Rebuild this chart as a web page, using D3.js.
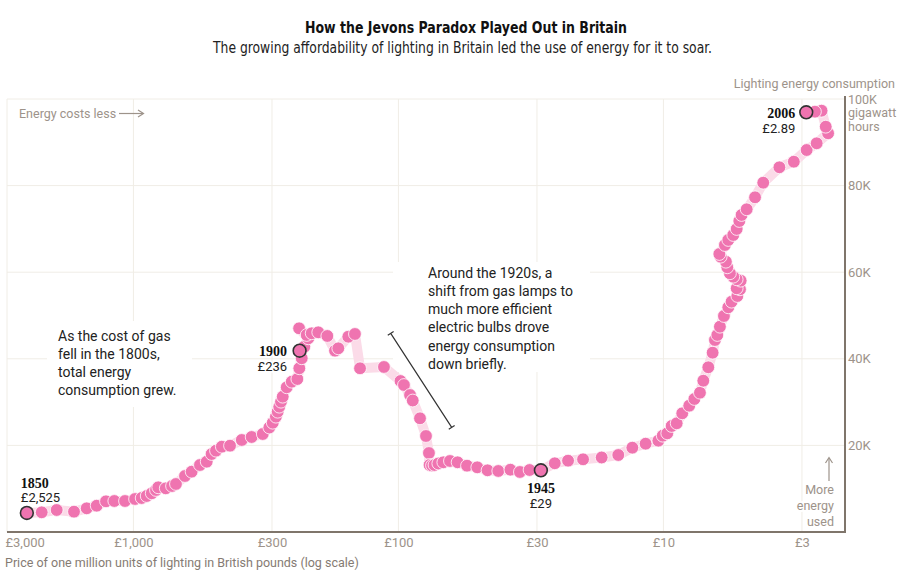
<!DOCTYPE html>
<html><head><meta charset="utf-8">
<script src="https://cdn.jsdelivr.net/npm/d3@7"></script>
<style>
body{margin:0;background:#fff;}
svg{display:block;}
</style></head>
<body>
<svg id="chart" width="913" height="573"></svg>
<script>
// ---- data (price in £ per million units of lighting, energy in GWh) ----
const price = [
  2525, 2219, 1948, 1676, 1501, 1376, 1269, 1181, 1076, 986, 931, 891, 853, 822, 806, 755, 715, 691, 639, 603,
  561, 529, 507, 488, 464, 432, 390, 358, 325, 307, 298, 290, 285.5, 281.6, 277.4, 273.3, 264, 252.7, 240.7, 236.6,
  231.7, 236,
  226.5, 218.8, 237, 221.9, 212.5, 200.7, 185.5, 173.5, 168.6, 154.6, 145.9, 139.6, 113.4, 98.2, 95.3, 90.4, 88.3, 82.9,
  78.7, 76.7, 76.3, 74.7, 73.1, 70.7, 67.7, 63.9, 59.8, 55.1, 50.4, 46.1, 42.0, 37.8, 34.8, 32.0, 29,
  25.7, 22.9, 20.1, 17.1, 14.8, 13.1, 11.67, 10.45, 10.06, 9.67, 9.31, 8.91, 8.49, 7.99, 7.64, 7.28, 7.07, 6.77,
  6.52, 6.39, 6.26, 6.12, 5.91, 5.69, 5.53, 5.26, 5.14, 5.29, 5.11, 5.29, 5.45, 5.61, 5.74, 5.81, 6.08, 6.15,
  5.86, 5.69, 5.45, 5.29, 5.17, 5.07, 4.85, 4.51, 4.20, 3.65, 3.22, 2.88, 2.64, 2.39, 2.44, 2.53, 2.68, 2.89
];
const energy = [
  4400, 4550, 5080, 4690, 5470, 6070, 7090, 7160, 7160, 7620, 7850, 8310, 8940, 9700, 10320, 10090, 10620, 11090, 12930, 13930,
  15470, 16240, 18010, 18780, 19700, 19930, 21250, 21940, 22630, 24130, 25240, 26630, 27780, 28940, 30090, 31250, 33420, 34710, 35330, 37810,
  40120, 41870,
  42790, 44730, 47040, 45500, 45890, 46120, 45270, 41870, 42420, 45100, 45730, 37810, 38110, 34870, 33950, 31640, 30370, 26260,
  22170, 18240, 15470, 15360, 15470, 15820, 16100, 16400, 16100, 15310, 14940, 14250, 14090, 14390, 13860, 14320, 14250,
  15870, 16470, 16790, 17210, 17780, 19470, 20390, 21090, 22240, 22790, 24480, 25100, 27410, 29170, 30720, 32170, 34940, 38040,
  41410, 44340, 45500, 47410, 49880, 51890, 53190, 54500, 56050, 56280, 58040, 58360, 58960, 59750, 61130, 62420, 63580, 64200,
  66280, 67440, 68590, 69980, 71820, 73210, 74530, 77300, 80670, 84230, 85520, 88220, 89770, 92080, 93600, 97300, 97070, 96930
];
const xTickValues = [3000, 1000, 300, 100, 30, 10, 3];
const xTickLabels = ["£3,000", "£1,000", "£300", "£100", "£30", "£10", "£3"];
const yTickValues = [20000, 40000, 60000, 80000, 100000];
const yTickLabels = ["20K", "40K", "60K", "80K", "100K"];
const yTopUnit = ["gigawatt", "hours"];
const highlightIndex = [0, 41, 76, 130];
const highlightYears = ["1850", "1900", "1945", "2006"];
const highlightPrices = ["£2,525", "£236", "£29", "£2.89"];
const note1 = ["As the cost of gas", "fell in the 1800s,", "total energy", "consumption grew."];
const note2 = ["Around the 1920s, a", "shift from gas lamps to", "much more efficient", "electric bulbs drove", "energy consumption", "down briefly."];

// ---- layout ----
const L = 7, R = 845, T = 99, B = 532;
const PINK = "#ef74b0", LINK = "#fbdbe8", GRID = "#f0ede6", AXIS = "#7f756b", TICK = "#9d938a";
const SANS = "Roboto, 'Noto Sans', sans-serif";
const NARROW = "'Liberation Sans Narrow', 'DejaVu Sans Condensed', Roboto, sans-serif";
const SERIF = "'Liberation Serif', 'DejaVu Serif', serif";

const svg = d3.select("#chart");
const x = d3.scaleLog().domain([3000, 2.064]).range([L, R]);
const y = d3.scaleLinear().domain([0, 100000]).range([B, T]);
const pts = price.map((p, i) => ({ p, e: energy[i], i }));

// title
svg.append("text").attr("x", 466).attr("y", 33).attr("text-anchor", "middle")
  .attr("textLength", 322).attr("lengthAdjust", "spacingAndGlyphs")
  .style("font-family", NARROW).style("font-weight", "bold").style("font-size", "16.5px")
  .attr("fill", "#111").text("How the Jevons Paradox Played Out in Britain");
svg.append("text").attr("x", 462.5).attr("y", 53).attr("text-anchor", "middle")
  .attr("textLength", 499).attr("lengthAdjust", "spacingAndGlyphs")
  .style("font-family", NARROW).style("font-size", "15.5px")
  .attr("fill", "#222").text("The growing affordability of lighting in Britain led the use of energy for it to soar.");

// gridlines
const g = svg.append("g");
g.selectAll(".vg").data(xTickValues).join("line")
  .attr("x1", d => x(d)).attr("x2", d => x(d)).attr("y1", T).attr("y2", B)
  .attr("stroke", GRID).attr("stroke-width", 1);
g.selectAll(".hg").data(yTickValues).join("line")
  .attr("x1", L).attr("x2", R).attr("y1", d => y(d)).attr("y2", d => y(d))
  .attr("stroke", GRID).attr("stroke-width", 1);

// annotation backgrounds
svg.append("rect").attr("x", 47).attr("y", 321).attr("width", 145).attr("height", 86).attr("fill", "#fff");
svg.append("rect").attr("x", 393).attr("y", 262).attr("width", 197).attr("height", 110).attr("fill", "#fff");

// x axis
const xAxis = d3.axisBottom(x).tickValues(xTickValues).tickFormat((d, i) => xTickLabels[i]).tickSize(0).tickPadding(6);
const xa = svg.append("g").attr("transform", `translate(0,${B})`).call(xAxis);
xa.select(".domain").remove();
xa.selectAll("text").style("font-family", SANS).style("font-size", "13px").attr("fill", TICK);
xa.selectAll("text").filter((d, i) => i === 0).attr("text-anchor", "start").attr("dx", -2);
svg.append("line").attr("x1", L).attr("x2", R + 1).attr("y1", B).attr("y2", B).attr("stroke", AXIS).attr("stroke-width", 2);

// y axis (right) — top tick carries the unit in the same text
const yAxis = d3.axisRight(y).tickValues(yTickValues.slice(0, -1)).tickFormat((d, i) => yTickLabels[i]).tickSize(0).tickPadding(3);
const ya = svg.append("g").attr("transform", `translate(${R},0)`).call(yAxis);
ya.select(".domain").remove();
ya.selectAll("text").style("font-family", SANS).style("font-size", "13px").attr("fill", TICK);
const topVal = yTickValues[yTickValues.length - 1];
const topLab = svg.append("text").style("font-family", SANS).style("font-size", "12.5px").attr("fill", TICK);
[yTickLabels[yTickLabels.length - 1], ...yTopUnit].forEach((t, k) =>
  topLab.append("tspan").attr("x", R + 3).attr("y", y(topVal) + 4.5 + k * 13.5).text(t));
svg.append("line").attr("x1", R).attr("x2", R).attr("y1", T - 3).attr("y2", B + 1).attr("stroke", AXIS).attr("stroke-width", 2);

// axis titles & hints
svg.append("text").attr("x", 895).attr("y", 88).attr("text-anchor", "end")
  .style("font-family", SANS).style("font-size", "12.5px").attr("fill", TICK).text("Lighting energy consumption");
svg.append("text").attr("x", 5).attr("y", 567)
  .style("font-family", SANS).style("font-size", "12.5px").attr("fill", "#857b73")
  .text("Price of one million units of lighting in British pounds (log scale)");
svg.append("text").attr("x", 19).attr("y", 118)
  .style("font-family", SANS).style("font-size", "12.5px").attr("fill", TICK).text("Energy costs less");
svg.append("line").attr("x1", 119).attr("x2", 143).attr("y1", 113.5).attr("y2", 113.5).attr("stroke", TICK).attr("stroke-width", 1.2);
svg.append("path").attr("d", "M138,110 L143.5,113.5 L138,117").attr("fill", "none").attr("stroke", TICK).attr("stroke-width", 1.2);

const more = svg.append("text").attr("text-anchor", "end")
  .style("font-family", SANS).style("font-size", "12.5px").attr("fill", TICK)
  .attr("stroke", "#fff").attr("stroke-width", 4).attr("paint-order", "stroke");
["More", "energy", "used"].forEach((t, k) => more.append("tspan").attr("x", 834).attr("y", 493.5 + k * 16).text(t));
svg.append("line").attr("x1", 829).attr("x2", 829).attr("y1", 458).attr("y2", 481).attr("stroke", TICK).attr("stroke-width", 1.2);
svg.append("path").attr("d", "M825.5,463 L829,457.5 L832.5,463").attr("fill", "none").attr("stroke", TICK).attr("stroke-width", 1.2);

// connecting band
svg.append("path").datum(pts)
  .attr("d", d3.line().x(d => x(d.p)).y(d => y(d.e)))
  .attr("fill", "none").attr("stroke", LINK).attr("stroke-width", 10)
  .attr("stroke-linejoin", "round").attr("stroke-linecap", "round");

// points
svg.append("g").selectAll("circle").data(pts).join("circle")
  .attr("cx", d => x(d.p)).attr("cy", d => y(d.e)).attr("r", 6.4)
  .attr("fill", PINK).attr("stroke", "#fff").attr("stroke-width", 0.8);

// highlighted points
const hl = highlightIndex.map((idx, k) => ({ d: pts[idx], year: highlightYears[k], lab: highlightPrices[k] }));
svg.append("g").selectAll("circle").data(hl).join("circle")
  .attr("cx", h => x(h.d.p)).attr("cy", h => y(h.d.e)).attr("r", 6.4)
  .attr("fill", PINK).attr("stroke", "#333").attr("stroke-width", 1.6);

const labelOffsets = [
  { anchor: "start", dx: -6, dy1: -25, dy2: -10.5 },
  { anchor: "end", dx: -12.5, dy1: 5.5, dy2: 20 },
  { anchor: "middle", dx: 0, dy1: 23, dy2: 37.5 },
  { anchor: "end", dx: -11, dy1: 6, dy2: 20.5 }
];
hl.forEach((h, k) => {
  const o = labelOffsets[k];
  const cx = x(h.d.p), cy = y(h.d.e);
  svg.append("text").attr("x", cx + o.dx).attr("y", cy + o.dy1).attr("text-anchor", o.anchor)
    .attr("stroke", "#fff").attr("stroke-width", 3).attr("paint-order", "stroke")
    .style("font-family", SERIF).style("font-weight", "bold").style("font-size", "14px").attr("fill", "#111").text(h.year);
  svg.append("text").attr("x", cx + o.dx).attr("y", cy + o.dy2).attr("text-anchor", o.anchor)
    .attr("stroke", "#fff").attr("stroke-width", 3).attr("paint-order", "stroke")
    .style("font-family", SANS).style("font-size", "13px").attr("fill", "#222").text(h.lab);
});

// annotations
const a1 = svg.append("text").style("font-family", SANS).style("font-size", "14px").attr("fill", "#222");
note1.forEach((t, k) => a1.append("tspan").attr("x", 58).attr("y", 341 + k * 18.1).text(t));
const a2 = svg.append("text").style("font-family", SANS).style("font-size", "14px").attr("fill", "#222");
note2.forEach((t, k) => a2.append("tspan").attr("x", 428).attr("y", 277.7 + k * 18.2).text(t));

// bracket
const bx1 = 390.7, by1 = 333.3, bx2 = 451.7, by2 = 427.3;
const len = Math.hypot(bx2 - bx1, by2 - by1), ux = (bx2 - bx1) / len, uy = (by2 - by1) / len;
const px = -uy * 3.5, py = ux * 3.5;
svg.append("path")
  .attr("d", `M${bx1},${by1}L${bx2},${by2}M${bx1 - px},${by1 - py}L${bx1 + px},${by1 + py}M${bx2 - px},${by2 - py}L${bx2 + px},${by2 + py}`)
  .attr("fill", "none").attr("stroke", "#333").attr("stroke-width", 1.2);
</script>
</body></html>
